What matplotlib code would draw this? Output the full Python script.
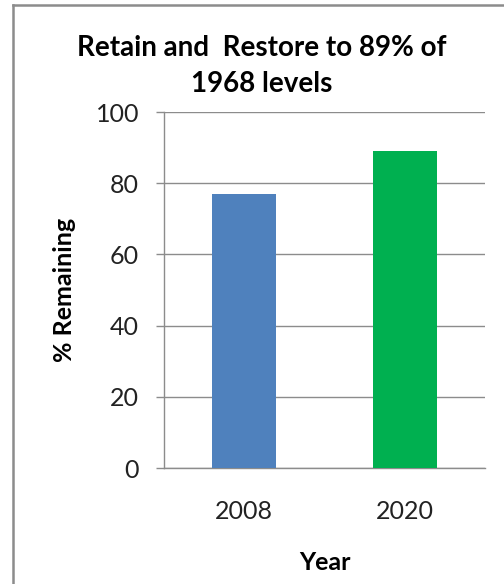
import matplotlib
matplotlib.use("Agg")
import matplotlib.pyplot as plt
from matplotlib.lines import Line2D

years = ["2008", "2020"]
remaining = [77, 89]
bar_colors = ["#4F81BD", "#00B050"]
y_ticks = [0, 20, 40, 60, 80, 100]

plt.rcParams["font.family"] = ["Lato", "DejaVu Sans"]

W, H = 504, 584
fig = plt.figure(figsize=(W / 100, H / 100), dpi=100)
ax = fig.add_axes([164 / W, 1 - 468 / H, (485 - 164) / W, (468 - 112) / H])

x = range(len(years))
ax.bar(x, remaining, width=0.4, color=bar_colors, zorder=3)

ax.set_xlim(-0.5, len(years) - 0.5)
ax.set_ylim(0, 100)
ax.set_yticks(y_ticks)
ax.set_xticks(list(x))
ax.set_xticklabels(years)

ax.grid(axis="y", color="#8c8c8c", linewidth=1.0, zorder=0)
for side in ["top", "right"]:
    ax.spines[side].set_visible(False)
for side in ["left", "bottom"]:
    ax.spines[side].set_color("#8c8c8c")
    ax.spines[side].set_linewidth(1.0)

ax.tick_params(axis="y", length=6, color="#8c8c8c", width=1.0, pad=12,
               labelsize=18, labelcolor="#222222")
ax.tick_params(axis="x", length=0, pad=23, labelsize=18, labelcolor="#222222")

fig.text(65 / W, 1 - 290 / H, "% Remaining", rotation=90, ha="center",
         va="center", fontsize=18, fontweight="bold")
fig.text(325 / W, 1 - 563 / H, "Year", ha="center", va="center",
         fontsize=18, fontweight="bold")

fig.text(262 / W, 1 - 66 / H, "Retain and  Restore to 89% of\n1968 levels",
         ha="center", va="center", fontsize=20, fontweight="bold",
         linespacing=1.5)

# chart frame: gray border along top and left edge
fig.add_artist(Line2D([13 / W, 1.0], [1 - 5 / H, 1 - 5 / H],
                      transform=fig.transFigure, color="#8c8c8c", linewidth=1.8))
fig.add_artist(Line2D([13 / W, 13 / W], [0.0, 1 - 5 / H],
                      transform=fig.transFigure, color="#8c8c8c", linewidth=1.8))

fig.savefig("out.png", dpi=100)
